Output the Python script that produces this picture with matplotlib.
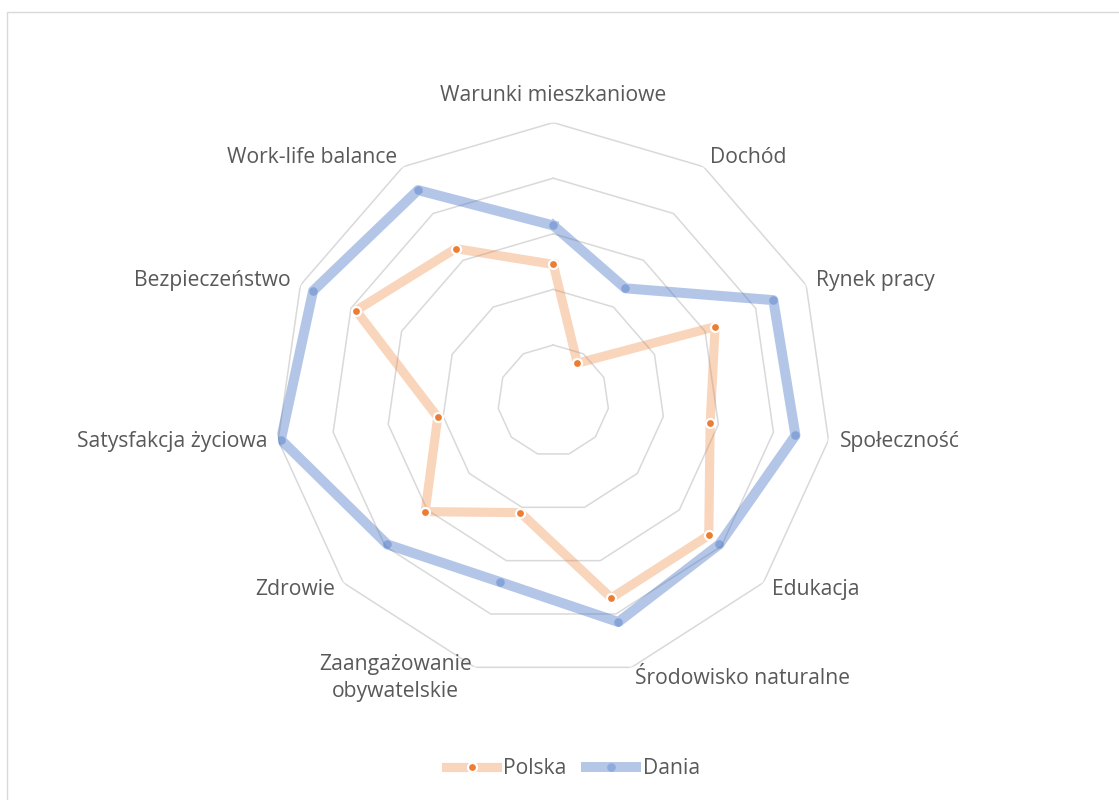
import numpy as np
import matplotlib
matplotlib.use("Agg")
import matplotlib.pyplot as plt
from matplotlib.lines import Line2D
from matplotlib.patches import Rectangle

categories = ["Warunki mieszkaniowe", "Dochód", "Rynek pracy", "Społeczność", "Edukacja",
              "Środowisko naturalne", "Zaangażowanie\nobywatelskie", "Zdrowie",
              "Satysfakcja życiowa", "Bezpieczeństwo", "Work-life balance"]
polska = [4.9, 1.6, 6.4, 5.7, 7.4, 7.4, 4.2, 6.1, 4.2, 7.8, 6.5]
dania = [6.3, 4.8, 8.7, 8.8, 7.9, 8.3, 6.8, 7.9, 9.9, 9.5, 9.0]
series_names = ["Polska", "Dania"]
ring_levels = [2, 4, 6, 8, 10]

plt.rcParams['font.family'] = ['Open Sans', 'DejaVu Sans']
FS = 15.2

W, H = 1119, 800
fig = plt.figure(figsize=(W / 100, H / 100), dpi=100)
fig.patch.set_facecolor('white')
fig.patches.append(Rectangle((7 / W, -0.1), 1.2, 1 - 12 / H + 0.1, transform=fig.transFigure,
                             fill=False, edgecolor='#D9D9D9', lw=1.0))

cx, cy, R = 553.3 / W, 1 - 400.6 / H, 278.0
ax = fig.add_axes([cx - R / W, cy - R / H, 2 * R / W, 2 * R / H], projection='polar')
ax.set_theta_zero_location('N')
ax.set_theta_direction(-1)
ax.set_ylim(0, 10)
ax.grid(False)
ax.spines['polar'].set_visible(False)
ax.set_xticks([])
ax.set_yticks([])
ax.patch.set_alpha(0)

n = len(categories)
angles = np.linspace(0, 2 * np.pi, n, endpoint=False)
closed = np.concatenate([angles, angles[:1]])

for lv in ring_levels:
    ax.plot(closed, [lv] * (n + 1), color='#D9D9D9', lw=1.1, zorder=1)

orange = '#ED7D31'
blue = '#4472C4'
p_vals = polska + polska[:1]
d_vals = dania + dania[:1]
ax.plot(closed, p_vals, color=orange, alpha=0.32, lw=6.6, solid_joinstyle='round', zorder=2)
ax.plot(angles, polska, ls='none', marker='o', ms=6.5, mfc=orange, mec='white', mew=1.6, zorder=3)
ax.plot(closed, d_vals, color=blue, alpha=0.4, lw=7.2, solid_joinstyle='round', zorder=4)
ax.plot(angles, dania, ls='none', marker='o', ms=6.2, mfc=blue, mec='none', alpha=0.4, zorder=5)

for ang, lab in zip(angles, categories):
    s, c = np.sin(ang), np.cos(ang)
    if abs(s) < 0.1:
        ax.text(ang, 10.6, lab, ha='center', va='bottom', fontsize=FS, color='#595959')
    else:
        ha = 'left' if s > 0 else 'right'
        ax.text(ang, 10.4, lab, ha=ha, va='center', fontsize=FS, color='#595959',
                multialignment='center', linespacing=1.38)

handles = [
    Line2D([], [], color='#F8D5BC', lw=6.6, marker='o', ms=6.5, mfc=orange, mec='white', mew=1.6),
    Line2D([], [], color='#B4C7E7', lw=7.2, marker='o', ms=6.2, mfc='#8FAADC', mec='none'),
]
fig.legend(handles, series_names, loc='center', bbox_to_anchor=(573 / W, 1 - 769 / H), ncol=2,
           frameon=False, fontsize=FS, labelcolor='#595959', handlelength=2.4,
           handletextpad=0.3, columnspacing=0.9)

fig.savefig('out.png', dpi=100, facecolor='white')
